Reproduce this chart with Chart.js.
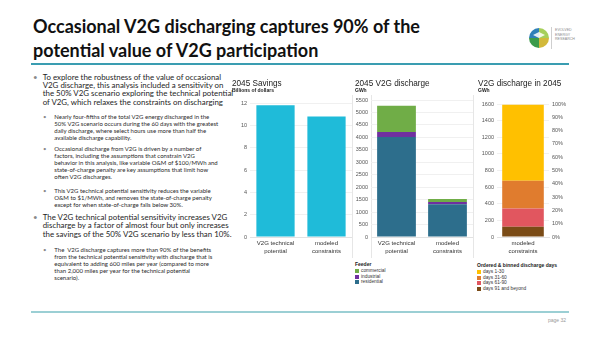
<!DOCTYPE html>
<html>
<head>
<meta charset="utf-8">
<script src="https://cdn.jsdelivr.net/npm/chart.js@4.4.0/dist/chart.umd.min.js"></script>
<style>
  body { margin: 0; width: 600px; height: 337px; background: #fff; position: relative; overflow: hidden; font-family: Lato, "Open Sans", sans-serif; color: #1e1e1e; }
  .abs { position: absolute; }
  #title { left: 33px; top: 15px; font-weight: 700; font-size: 18px; line-height: 23.5px; white-space: nowrap; color: #111; }
  .rule { position: absolute; left: 31px; width: 538px; }
  .blk { position: absolute; white-space: nowrap; }
  .blk .bul { position: absolute; left: 0; color: #8a8a8a; }
  .main { left: 33px; padding-left: 9.7px; font-size: 7.9px; line-height: 8.4px; }
  .sub { left: 43px; padding-left: 11.3px; font-size: 6px; line-height: 7px; color: #2a2a2a; }
  canvas { position: absolute; }
  .sep { position: absolute; width: 1px; top: 95px; height: 163px; background: #e6e6e6; }
  .legend { position: absolute; font-family: "Liberation Sans", Arial, sans-serif; font-size: 4.8px; line-height: 5.8px; color: #333; white-space: nowrap; }
  .legend b { display: block; font-size: 5px; color: #222; }
  .legend .item { position: relative; padding-left: 6px; }
  .legend .sw { position: absolute; left: 0; top: 1px; width: 4px; height: 4px; }
  #page { left: 548px; top: 317px; font-family: "Liberation Sans", Arial, sans-serif; font-size: 5px; color: #9a9a9a; }
  #logoText { left: 555px; top: 28px; font-family: "Liberation Sans", Arial, sans-serif; font-size: 3.6px; line-height: 4.6px; color: #8a8a8a; }
</style>
</head>
<body>
<div id="title" class="abs">Occasional V2G discharging captures 90% of the<br>potential value of V2G participation</div>
<svg class="abs" style="left:527px;top:26px" width="24" height="24" viewBox="0 0 24 24">
  <path d="M12 12 L12 2 A10 10 0 0 0 2 12 Z" fill="#2f7fb8"/>
  <path d="M12 12 L22 12 A10 10 0 0 0 12 2 Z" fill="#a6cf5a"/>
  <path d="M12 12 L2 12 A10 10 0 0 0 12 22 Z" fill="#3b9a4a"/>
  <path d="M12 12 L12 22 A10 10 0 0 0 22 12 Z" fill="#d2b93a"/>
  <path d="M6 9 L12 6 L18 9 L12 12 Z" fill="#fff" opacity="0.85"/>
</svg>
<div class="abs" style="left:551px;top:27px;width:1px;height:22px;background:#cfcfcf"></div>
<div id="logoText" class="abs">EVOLVED<br>ENERGY<br>RESEARCH</div>
<div class="rule" style="top:63px;height:2px;background:#3a9db1"></div>
<div class="rule" style="top:311px;height:2px;background:#9bcfd4"></div>

<div class="blk main" style="top:72.5px"><span class="bul">•</span>To explore the robustness of the value of occasional<br>V2G discharge, this analysis included a sensitivity on<br>the 50% V2G scenario exploring the technical potential<br>of V2G, which relaxes the constraints on discharging</div>
<div class="blk sub" style="top:112.5px"><span class="bul">•</span>Nearly four-fifths of the total V2G energy discharged in the<br>50% V2G scenario occurs during the 60 days with the greatest<br>daily discharge, where select hours use more than half the<br>available discharge capability.</div>
<div class="blk sub" style="top:144.5px"><span class="bul">•</span>Occasional discharge from V2G is driven by a number of<br>factors, including the assumptions that constrain V2G<br>behavior in this analysis, like variable O&amp;M of $100/MWh and<br>state-of-charge penalty are key assumptions that limit how<br>often V2G discharges.</div>
<div class="blk sub" style="top:186.5px"><span class="bul">•</span>This V2G technical potential sensitivity reduces the variable<br>O&amp;M to $1/MWh, and removes the state-of-charge penalty<br>except for when state-of-charge falls below 30%.</div>
<div class="blk main" style="top:212.5px;line-height:8.8px"><span class="bul">•</span>The V2G technical potential sensitivity increases V2G<br>discharge by a factor of almost four but only increases<br>the savings of the 50% V2G scenario by less than 10%.</div>
<div class="blk sub" style="top:245.5px"><span class="bul">•</span>The&nbsp; V2G discharge captures more than 90% of the benefits<br>from the technical potential sensitivity with discharge that is<br>equivalent to adding 600 miles per year (compared to more<br>than 2,000 miles per year for the technical potential<br>scenario).</div>

<div class="sep" style="left:352px"></div>
<div class="sep" style="left:371px"></div>
<div class="sep" style="left:473px"></div>

<canvas id="savings" width="120" height="179" style="left:232px;top:78px"></canvas>
<canvas id="discharge" width="118" height="179" style="left:355px;top:78px"></canvas>
<canvas id="bins" width="91" height="179" style="left:478px;top:78px"></canvas>

<div id="feederLegend" class="legend" style="left:355px;top:262px"></div>
<div id="binLegend" class="legend" style="left:477px;top:263px"></div>
<div id="page" class="abs">page 32</div>

<script>
// categories
const scenarios = [['V2G technical', 'potential'], ['modeled', 'constraints']];
const modeledOnly = [['modeled', 'constraints']];

// 2045 savings, billions of dollars
const savings = [11.8, 10.8];

// 2045 V2G discharge by feeder, GWh
const residential = [4020, 1310];
const industrial = [200, 95];
const commercial = [1050, 120];

// modeled discharge binned by ordered discharge days, GWh
const days91Plus = [124];
const days61to90 = [220];
const days31to60 = [332];
const days1to30 = [916];

// axis ranges: min, max, step
const savingsAxis = [0, 12, 2];
const dischargeAxis = [0, 5500, 500];
const binsAxis = [0, 1600, 200];
const shareAxis = [0, 100, 10];

const cyan = '#1fbbd9';
const feeders = [
  { label: 'residential', data: residential, color: '#2d6e8c' },
  { label: 'industrial', data: industrial, color: '#7030a0' },
  { label: 'commercial', data: commercial, color: '#70ad47' }
];
const bins = [
  { label: 'days 91 and beyond', data: days91Plus, color: '#7a4b16' },
  { label: 'days 61-90', data: days61to90, color: '#e1565f' },
  { label: 'days 31-60', data: days31to60, color: '#e07c2e' },
  { label: 'days 1-30', data: days1to30, color: '#ffc000' }
];

Chart.defaults.font.family = '"Liberation Sans", Arial, sans-serif';
Chart.defaults.color = '#595959';

function yAxis(range, width, extra) {
  return Object.assign({
    min: range[0], max: range[1],
    grid: { color: '#f0f0f0', drawTicks: false },
    border: { display: false },
    ticks: { stepSize: range[2], font: { size: 5.5 }, padding: 3, color: '#555', callback: v => String(v) },
    afterFit: s => { s.width = width; }
  }, extra || {});
}

function xAxis(stacked) {
  return {
    stacked: stacked,
    grid: { display: false, drawTicks: false },
    border: { color: '#e2e2e2' },
    ticks: { font: { size: 6, lineHeight: 1.23 }, color: '#333', padding: 3, maxRotation: 0, autoSkip: false },
    afterFit: s => { s.height = 20; }
  };
}

function titles(text, sub, gap) {
  return {
    legend: { display: false },
    tooltip: { enabled: false },
    title: { display: true, text: text, align: 'start', color: '#222', font: { size: 8.2, weight: 'normal', lineHeight: 1.1 }, padding: { top: 1, bottom: 0 } },
    subtitle: { display: true, text: sub, align: 'start', color: '#222', font: { size: 5, weight: 'bold', lineHeight: 1.2 }, padding: { top: 0, bottom: gap } }
  };
}

const base = { responsive: false, animation: false, devicePixelRatio: 1, layout: { padding: 0 } };

new Chart(document.getElementById('savings'), {
  type: 'bar',
  data: {
    labels: scenarios,
    datasets: [{ data: savings, backgroundColor: cyan, barPercentage: 0.75, categoryPercentage: 1 }]
  },
  options: Object.assign({}, base, {
    plugins: titles('2045 Savings', 'Billions of dollars', 9),
    scales: { x: xAxis(false), y: yAxis(savingsAxis, 18) }
  })
});

new Chart(document.getElementById('discharge'), {
  type: 'bar',
  data: {
    labels: scenarios,
    datasets: feeders.map(f => ({ label: f.label, data: f.data, backgroundColor: f.color, barPercentage: 0.76, categoryPercentage: 1 }))
  },
  options: Object.assign({}, base, {
    plugins: titles('2045 V2G discharge', 'GWh', 6),
    scales: { x: xAxis(true), y: yAxis(dischargeAxis, 16, { stacked: true }) }
  })
});

new Chart(document.getElementById('bins'), {
  type: 'bar',
  data: {
    labels: modeledOnly,
    datasets: bins.map(b => ({ label: b.label, data: b.data, backgroundColor: b.color, barPercentage: 0.8, categoryPercentage: 1 }))
  },
  options: Object.assign({}, base, {
    plugins: titles('V2G discharge in 2045', 'GWh', 10),
    scales: {
      x: xAxis(true),
      y: yAxis(binsAxis, 19, { stacked: true }),
      share: yAxis(shareAxis, 20, {
        position: 'right',
        grid: { display: false, drawTicks: false },
        ticks: { stepSize: shareAxis[2], font: { size: 5.5 }, padding: 3, color: '#555', callback: v => v + '%' }
      })
    }
  })
});

function legend(id, heading, items) {
  const el = document.getElementById(id);
  el.innerHTML = '<b>' + heading + '</b>' + items.map(i =>
    '<div class="item"><span class="sw" style="background:' + i.color + '"></span>' + i.label + '</div>').join('');
}
legend('feederLegend', 'Feeder', feeders.slice().reverse());
legend('binLegend', 'Ordered &amp; binned discharge days', bins.slice().reverse());
</script>
</body>
</html>
